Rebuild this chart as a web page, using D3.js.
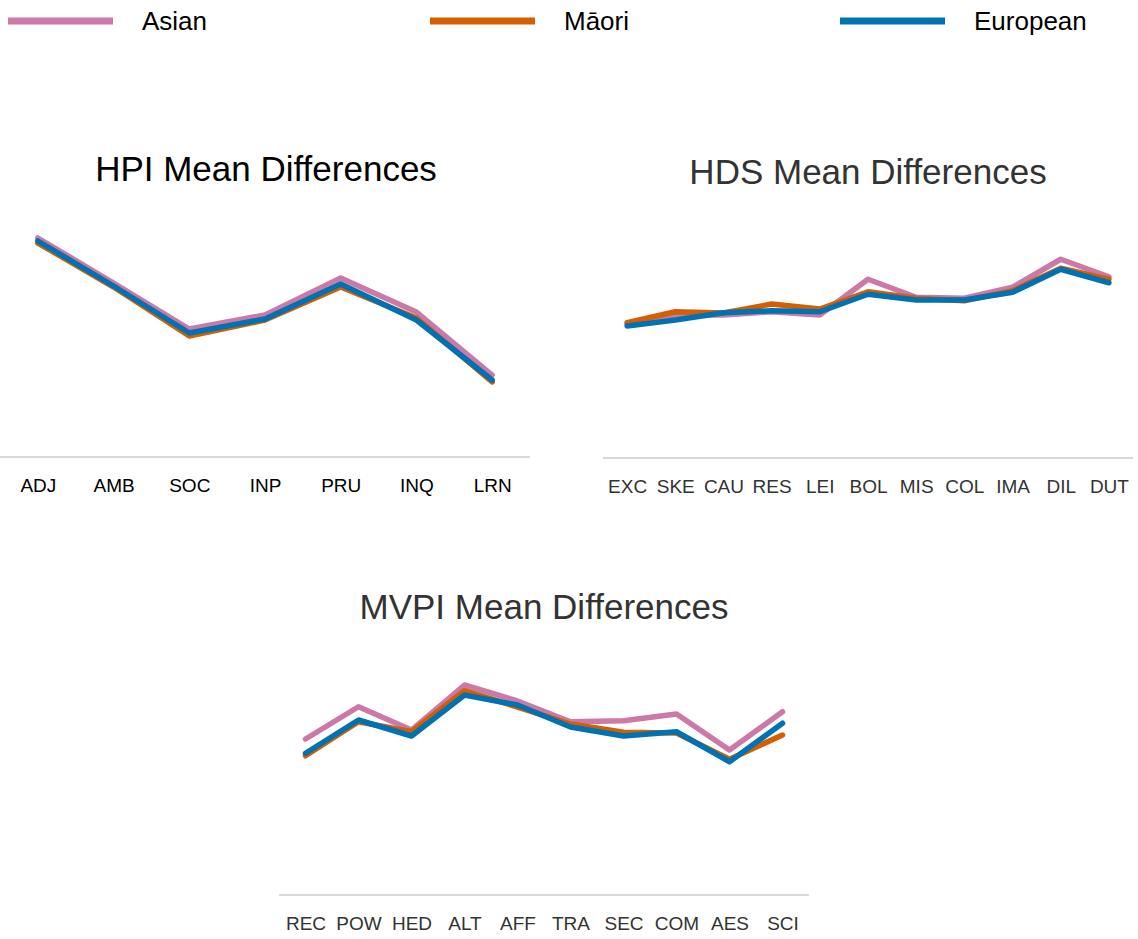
<!DOCTYPE html>
<html><head><meta charset="utf-8">
<script src="https://cdn.jsdelivr.net/npm/d3@7"></script>
<style>
body{margin:0;background:#fff;}
svg{display:block;font-family:"Liberation Sans",Arial,sans-serif;}
</style></head><body>
<svg id="c" width="1138" height="939"></svg>
<script>
const groups = ["Asian", "Māori", "European"];
const groupColors = ["#CC79A7", "#D55E00", "#0072B2"];

const hpiScales = ["ADJ","AMB","SOC","INP","PRU","INQ","LRN"];
const hpiAsian    = [87.6, 69.6, 51.2, 56.8, 71.6, 58.0, 32.8];
const hpiMaori    = [85.6, 68.0, 48.4, 54.8, 68.0, 55.6, 30.0];
const hpiEuropean = [86.4, 68.4, 49.6, 55.2, 69.2, 54.8, 30.8];

const hdsScales = ["EXC","SKE","CAU","RES","LEI","BOL","MIS","COL","IMA","DIL","DUT"];
const hdsAsian    = [53.6, 57.2, 57.2, 58.5, 57.2, 71.5, 64.3, 63.9, 68.3, 79.5, 72.5];
const hdsMaori    = [54.1, 58.5, 58.0, 61.6, 59.6, 66.5, 63.9, 62.9, 66.9, 75.9, 71.5];
const hdsEuropean = [52.8, 55.2, 58.1, 58.9, 58.5, 65.5, 63.2, 63.2, 66.3, 75.5, 70.1];

const mvpiScales = ["REC","POW","HED","ALT","AFF","TRA","SEC","COM","AES","SCI"];
const mvpiAsian    = [62.4, 75.3, 66.0, 84.0, 77.6, 69.3, 69.7, 72.4, 58.0, 73.3];
const mvpiMaori    = [55.7, 69.3, 65.3, 81.7, 75.2, 68.4, 65.1, 64.8, 54.3, 64.0];
const mvpiEuropean = [56.7, 70.0, 63.6, 80.0, 76.0, 67.2, 63.6, 65.3, 53.3, 68.7];

const svg = d3.select("#c");

// Legend
const legendX = [8, 430, 840];
groups.forEach((g, i) => {
  const lg = svg.append("g").attr("transform", `translate(${legendX[i]},21)`);
  lg.append("line").attr("x1", 0).attr("x2", 105).attr("y1", 0).attr("y2", 0)
    .attr("stroke", groupColors[i]).attr("stroke-width", 7);
  lg.append("text").attr("x", 134).attr("y", 9).attr("font-size", 26)
    .attr("fill", "#000").text(g);
});

function chart(opts) {
  const {title, titleX, titleY, titleColor, titleSize, cats, series, x0, x1, base, labelColor} = opts;
  const x = d3.scalePoint().domain(cats).range([x0, x1]).padding(0.5);
  const y = d3.scaleLinear().domain([0, 100]).range([base, base - 250]);
  svg.append("text").attr("x", titleX).attr("y", titleY).attr("text-anchor", "middle")
    .attr("font-size", titleSize).attr("fill", titleColor).text(title);
  const ax = svg.append("g").attr("transform", `translate(0,${base})`)
    .call(d3.axisBottom(x).tickSize(0).tickSizeOuter(0).tickPadding(22));
  ax.select(".domain").attr("stroke", "#d9d9d9").attr("stroke-width", 2)
    .attr("d", `M${x0},0H${x1}`);
  ax.selectAll("text").attr("font-size", 19).attr("fill", labelColor)
    .attr("font-family", "Liberation Sans, Arial, sans-serif");
  const line = d3.line().x((d, i) => x(cats[i])).y(d => y(d));
  series.forEach((s, i) => {
    svg.append("path").datum(s).attr("d", line).attr("fill", "none")
      .attr("stroke", groupColors[i]).attr("stroke-width", 5.5)
      .attr("stroke-linejoin", "round").attr("stroke-linecap", "round");
  });
}

chart({title: "HPI Mean Differences", titleX: 266, titleY: 181, titleColor: "#000", titleSize: 35,
  cats: hpiScales, series: [hpiAsian, hpiMaori, hpiEuropean], x0: 0, x1: 530, base: 457, labelColor: "#000"});
chart({title: "HDS Mean Differences", titleX: 868, titleY: 184, titleColor: "#333", titleSize: 35,
  cats: hdsScales, series: [hdsAsian, hdsMaori, hdsEuropean], x0: 603, x1: 1133, base: 458, labelColor: "#333"});
chart({title: "MVPI Mean Differences", titleX: 544, titleY: 619, titleColor: "#333", titleSize: 35,
  cats: mvpiScales, series: [mvpiAsian, mvpiMaori, mvpiEuropean], x0: 279, x1: 809, base: 895, labelColor: "#333"});
</script>
</body></html>
